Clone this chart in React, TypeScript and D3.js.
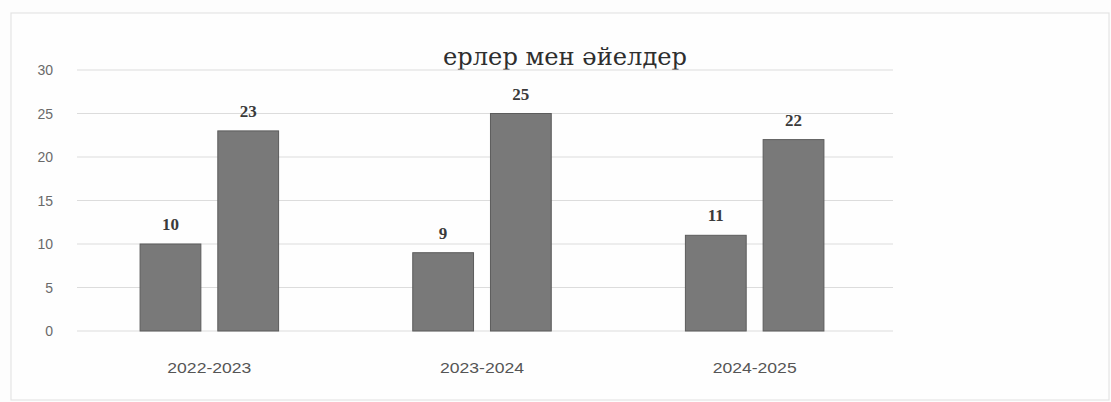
import React from 'react';
import * as d3 from 'd3';

const categories = ['2022-2023', '2023-2024', '2024-2025'];
const seriesA = [10, 9, 11];
const seriesB = [23, 25, 22];
const yTicks = [0, 5, 10, 15, 20, 25, 30];
const title = 'ерлер мен әйелдер';

export default function App() {
  const W = 1111;
  const H = 402;
  const plot = { left: 73, right: 891, top: 70, bottom: 331 };

  const x0 = d3.scaleBand<string>()
    .domain(categories)
    .range([plot.left, plot.right]);

  const band = x0.bandwidth();
  const x1 = d3.scaleBand<string>()
    .domain(['a', 'b'])
    .range([band * 0.246, band * 0.754])
    .paddingInner(0.218);

  const y = d3.scaleLinear()
    .domain([0, 30])
    .range([plot.bottom, plot.top]);

  const rows = categories.map((c, i) => ({ c, a: seriesA[i], b: seriesB[i] }));

  return (
    <svg
      width={W}
      height={H}
      style={{ position: 'absolute', left: 0, top: 0, background: '#fdfdfd' }}
    >
      <rect x={11} y={13} width={1098} height={387} fill="#fefefe" stroke="#e4e4e4" strokeWidth={1.2} />

      {/* title is wider in the scan than any local serif, so stretch it */}
      <text
        x={565}
        y={65}
        textAnchor="middle"
        fontFamily="DejaVu Serif"
        fontSize={24}
        fill="#2e2e2e"
        textLength={244}
        lengthAdjust="spacingAndGlyphs"
      >
        {title}
      </text>

      {yTicks.map(t => (
        <g key={t}>
          <line x1={plot.left + 4} x2={plot.right + 2} y1={y(t)} y2={y(t)} stroke="#dcdcdc" strokeWidth={1.2} />
          <text x={53} y={y(t) + 5} textAnchor="end" fontFamily="Liberation Sans" fontSize={14} fill="#6a6a6a">
            {t}
          </text>
        </g>
      ))}

      {rows.map(r => (
        <g key={r.c} transform={`translate(${x0(r.c)},0)`}>
          {([['a', r.a], ['b', r.b]] as [string, number][]).map(([k, v]) => (
            <g key={k}>
              <rect
                x={x1(k)}
                y={y(v)}
                width={x1.bandwidth()}
                height={y(0) - y(v)}
                fill="#797979"
                stroke="#5c5c5c"
                strokeWidth={1}
              />
              <text
                x={(x1(k) || 0) + x1.bandwidth() / 2}
                y={y(v) - 14}
                textAnchor="middle"
                fontFamily="Liberation Serif"
                fontWeight={600}
                fontSize={17}
                fill="#3a3a3a"
              >
                {v}
              </text>
            </g>
          ))}
          <text
            x={band / 2}
            y={373}
            textAnchor="middle"
            fontFamily="Liberation Sans"
            fontSize={15}
            fill="#555"
            textLength={84}
            lengthAdjust="spacingAndGlyphs"
          >
            {r.c}
          </text>
        </g>
      ))}
    </svg>
  );
}
